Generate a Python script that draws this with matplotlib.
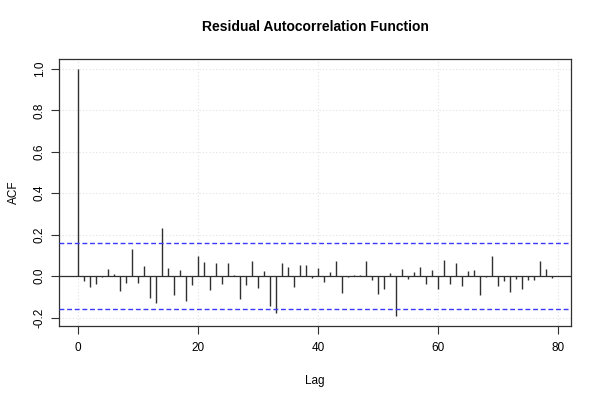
import numpy as np
import matplotlib
matplotlib.use("Agg")
import matplotlib.pyplot as plt

plt.rcParams["font.family"] = ["Liberation Sans", "DejaVu Sans"]

# ACF values by lag
lags = list(range(80))
acf = [
    1.000, -0.024, -0.053, -0.037, -0.002, 0.032, 0.011, -0.071, -0.031, 0.132,
    -0.034, 0.047, -0.108, -0.130, 0.230, 0.037, -0.092, 0.031, -0.121, -0.045,
    0.097, 0.068, -0.066, 0.061, -0.039, 0.061, 0.003, -0.111, -0.043, 0.071,
    -0.058, 0.024, -0.143, -0.179, 0.061, 0.042, -0.053, 0.056, 0.055, -0.011,
    0.040, -0.029, 0.021, 0.071, -0.082, -0.005, 0.006, 0.006, 0.071, -0.018,
    -0.087, -0.063, 0.013, -0.193, 0.034, -0.013, 0.018, 0.045, -0.039, 0.031,
    -0.063, 0.080, -0.039, 0.061, -0.050, 0.023, 0.031, -0.090, -0.003, 0.097,
    -0.047, -0.024, -0.079, -0.016, -0.063, -0.019, -0.019, 0.071, 0.034, -0.010,
]
conf_limit = 0.158
x_ticks = [0, 20, 40, 60, 80]
y_ticks = [-0.2, 0.0, 0.2, 0.4, 0.6, 0.8, 1.0]

fig = plt.figure(figsize=(6, 4), dpi=100)
ax = fig.add_axes([0.0983, 0.185, 0.8537, 0.6675])

# grid first so it sits behind the bars
for t in x_ticks:
    ax.axvline(t, color="#e2e2e2", linestyle=(0, (1, 2)), linewidth=0.8, zorder=0)
for t in y_ticks:
    ax.axhline(t, color="#e2e2e2", linestyle=(0, (1, 2)), linewidth=0.8, zorder=0)

ax.vlines(lags, 0, acf, colors="#303030", linewidth=1.0, zorder=2)
ax.axhline(0, color="#303030", linewidth=0.9, zorder=2)
for lim in (conf_limit, -conf_limit):
    ax.axhline(lim, color="#3a3aff", linestyle=(0, (3.5, 2)), linewidth=1.0, zorder=3)

span_y = 1.0 - min(acf)
ax.set_xlim(-79 * 0.04, 79 * 1.04)
ax.set_ylim(min(acf) - span_y * 0.04, 1.0 + span_y * 0.04)

ax.set_xticks(x_ticks)
ax.set_yticks(y_ticks)
ax.set_yticklabels([f"{t:.1f}" for t in y_ticks], rotation=90, va="center")
ax.tick_params(labelsize=8.5, length=5.5, color="#303030", labelcolor="black")
ax.tick_params(axis="x", pad=6)
ax.tick_params(axis="y", pad=4)
for s in ax.spines.values():
    s.set_color("#303030")
    s.set_linewidth(0.9)

ax.set_xlabel("Lag", fontsize=8.5, labelpad=15)
ax.set_ylabel("ACF", fontsize=8.5, labelpad=10)
ax.set_title("Residual Autocorrelation Function", fontsize=10, fontweight="bold", pad=20)

fig.savefig("out.png", dpi=100)
